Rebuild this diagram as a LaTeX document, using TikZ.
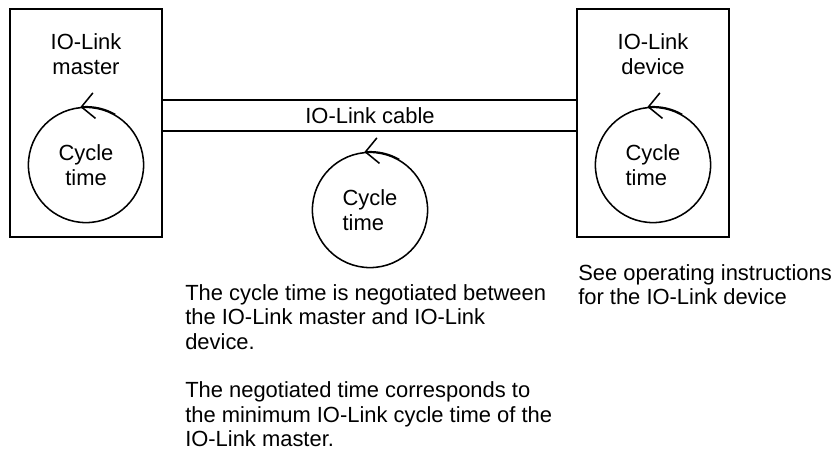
\documentclass[tikz,border=0pt]{standalone}
\usepackage{fontspec}
\setmainfont{Liberation Sans}
\usetikzlibrary{positioning,arrows.meta,bending}

\begin{document}
\begin{tikzpicture}[
    unit/.style={
        rectangle, draw=black, line width=1.3pt,
        minimum width=3.8cm, minimum height=5.7cm, inner sep=0pt
    },
    lbl/.style={font=\fontsize{15.6}{17.4}\selectfont, align=center, inner sep=0pt},
    cyc/.style={
        circle, draw=black, line width=1.1pt, minimum size=2.88cm,
        inner sep=0pt, font=\fontsize{15.6}{17.4}\selectfont, align=center
    },
    turn/.style={-{Straight Barb[length=3.2mm,width=6.4mm,flex]}, line width=1.1pt},
    cable/.style={line width=1.3pt},
    note/.style={font=\fontsize{15.6}{17.4}\selectfont, align=left, anchor=north west, inner sep=0pt}
]
\useasboundingbox (0,0) rectangle (20.8,11.375);

% ---------------- Master and device ----------------
\node[unit] (master) at (2.15,8.30) {};
\node[unit] (device) at (16.325,8.30) {};
\node[lbl]  (mlbl)   at (2.15,10.025) {IO-Link\\master};
\node[lbl]  (dlbl)   at (16.325,10.025) {IO-Link\\device};

% ---------------- Cable ----------------
\draw[cable] ([yshift=5.75mm]master.east) -- ([yshift=5.75mm]device.west);
\draw[cable] ([yshift=-2mm]master.east) -- ([yshift=-2mm]device.west);
\node[lbl] (cablelbl) at (9.25,8.475) {IO-Link cable};

% ---------------- Cycle times ----------------
\node[cyc] (mcyc) at (2.15,7.25) {Cycle\\time};
\node[cyc, align=left] (ccyc) at (9.25,6.125) {Cycle\\time};
\node[cyc, align=left] (dcyc) at (16.325,7.25) {Cycle\\time};

\draw[turn] (mcyc.60) arc (60:96:1.44);
\draw[turn] (ccyc.60) arc (60:96:1.44);
\draw[turn] (dcyc.60) arc (60:96:1.44);

% ---------------- Notes ----------------
\node[note] (negnote) at (4.625,4.275) {The cycle time is negotiated between\\the IO-Link master and IO-Link\\device.\\[6.1mm]The negotiated time corresponds to\\the minimum IO-Link cycle time of the\\IO-Link master.};
\node[note] (seenote) at (14.45,4.775) {See operating instructions\\for the IO-Link device};

\end{tikzpicture}
\end{document}
